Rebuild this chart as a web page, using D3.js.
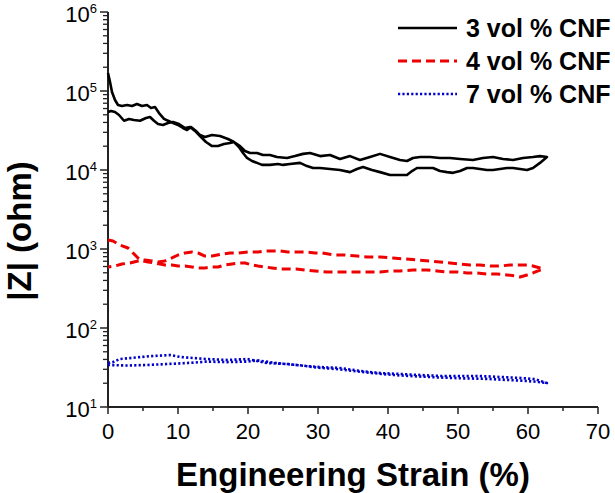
<!DOCTYPE html>
<html lang="en">
<head>
<meta charset="UTF-8">
<title>|Z| vs Engineering Strain</title>
<script src="https://d3js.org/d3.v7.min.js"></script>
<style>
    body { margin: 0; background: #fff; }
    svg { display: block; }
    text { font-family: Arial, "Liberation Sans", sans-serif; fill: #000; }
    .tick_label { font-size: 22px; }
    .axis_title { font-size: 33px; font-weight: bold; }
    .legend_text { font-size: 25px; font-weight: bold; }
</style>
</head>
<body>
<svg width="615" height="493"></svg>

<script>
    // [strain %, |Z| ohm]; each series is a loop (out, then back)
    const cnf3Out = [[0,1.69e5],[0.29,1.3e5],[0.57,9.7e4],[1.0,7.7e4],[1.43,6.65e4],[2.0,6.45e4],[2.71,6.65e4],
        [3.43,6.45e4],[4.14,6.85e4],[4.86,6.45e4],[5.57,6.65e4],[6.14,6.1e4],[6.71,6.27e4],[7.29,5.26e4],
        [8.0,4.43e4],[8.57,4.2e4],[9.29,3.94e4],[10.0,3.72e4],[10.71,3.4e4],[11.29,3.21e4],[11.86,3.5e4],
        [12.57,3.12e4],[13.14,2.77e4],[13.86,2.62e4],[14.86,2.77e4],[16.0,2.69e4],[17.14,2.47e4],[18.0,2.26e4],
        [18.71,1.95e4],[19.29,1.64e4],[19.86,1.42e4],[20.57,1.3e4],[21.29,1.23e4],[22.0,1.16e4],[23.14,1.16e4],
        [24.29,1.19e4],[25.0,1.16e4],[26.0,1.19e4],[27.43,1.23e4],[28.43,1.12e4],[29.29,1.06e4],[30.29,1.06e4],
        [31.71,1.03e4],[33.14,1.0e4],[34.57,9.4e3],[35.57,1.03e4],[36.43,1.09e4],[37.71,1.0e4],[38.86,9.4e3],
        [40.29,8.65e3],[41.71,8.65e3],[42.71,8.65e3],[43.43,9.7e3],[44.14,1.06e4],[45.29,1.06e4],[46.43,1.06e4],
        [47.43,9.7e3],[48.43,9.4e3],[49.29,9.2e3],[50.29,9.7e3],[51.29,1.06e4],[52.14,1.06e4],[53.14,1.03e4],
        [54.14,1.0e4],[55.0,1.0e4],[56.0,1.03e4],[57.0,1.06e4],[57.86,1.06e4],[58.86,1.03e4],[59.86,1.0e4],
        [60.71,1.06e4],[61.71,1.23e4],[62.71,1.46e4]];
    const cnf3Back = [[0,5.42e4],[0.43,5.59e4],[1.0,5.42e4],[1.57,4.97e4],[2.29,4.2e4],[3.0,4.43e4],[3.71,4.3e4],
        [4.57,4.2e4],[5.43,4.55e4],[6.0,4.69e4],[6.57,4.2e4],[7.14,3.82e4],[7.86,3.72e4],[8.57,3.94e4],
        [9.29,4.05e4],[10.14,3.82e4],[11.0,3.4e4],[11.71,3.5e4],[12.43,3.12e4],[13.14,2.69e4],[14.0,2.26e4],
        [14.86,2.01e4],[15.71,2.01e4],[16.57,2.13e4],[17.43,2.2e4],[18.0,2.26e4],[18.86,2.01e4],[19.57,1.74e4],
        [20.29,1.64e4],[21.29,1.64e4],[22.14,1.55e4],[23.14,1.55e4],[24.14,1.46e4],[25.57,1.42e4],[26.71,1.5e4],
        [27.86,1.6e4],[28.86,1.64e4],[30.29,1.5e4],[31.71,1.55e4],[33.14,1.38e4],[34.57,1.5e4],[36.0,1.34e4],
        [37.43,1.46e4],[38.86,1.6e4],[40.29,1.46e4],[41.71,1.34e4],[42.71,1.3e4],[43.57,1.42e4],[44.57,1.46e4],
        [46.0,1.46e4],[47.43,1.42e4],[48.86,1.42e4],[50.29,1.38e4],[52.14,1.34e4],[53.57,1.42e4],[55.0,1.46e4],
        [56.43,1.38e4],[57.86,1.34e4],[59.29,1.42e4],[60.71,1.46e4],[61.71,1.5e4],[62.71,1.46e4]];

    const cnf4Out = [[0,1300],[0.71,1262],[1.71,1124],[2.86,1030],[3.57,890],[4.29,770],[5.0,705],[5.71,685],
        [6.71,665],[7.43,646],[8.14,627],[9.14,627],[10.0,609],[11.0,609],[12.0,592],[12.86,575],[13.86,575],
        [14.86,592],[15.71,592],[16.71,627],[17.71,646],[18.57,665],[19.57,665],[20.57,627],[21.43,609],
        [22.43,592],[23.43,575],[24.57,559],[25.71,559],[26.86,559],[28.14,542],[29.57,527],[31.29,512],
        [33.14,512],[35.0,512],[37.0,512],[38.86,512],[40.29,527],[41.71,527],[43.57,542],[45.57,542],
        [47.0,527],[48.43,512],[49.86,512],[51.29,497],[52.71,497],[54.14,483],[55.57,483],[57.0,469],
        [58.14,456],[58.86,443],[59.86,469],[60.71,497],[61.71,542],[62.14,559]];
    const cnf4Back = [[0,592],[1.0,609],[2.0,646],[3.14,665],[4.29,705],[5.29,726],[6.29,705],[7.14,685],
        [8.14,705],[9.14,770],[10.0,840],[11.0,890],[12.0,916],[12.86,890],[13.86,815],[14.86,815],[16.29,864],
        [17.43,890],[18.57,890],[20.0,916],[21.43,916],[22.43,944],[23.43,944],[24.57,944],[25.71,916],
        [27.0,916],[28.14,916],[29.57,890],[30.57,890],[32.43,840],[33.86,840],[35.57,815],[37.0,792],
        [38.86,792],[40.71,770],[42.43,748],[44.14,726],[46.0,705],[47.43,685],[48.86,665],[50.29,646],
        [51.71,627],[53.14,627],[54.57,609],[56.0,609],[57.43,627],[58.86,627],[59.86,627],[60.71,609],
        [61.71,575],[62.14,559]];

    const cnf7Out = [[0,36],[0.7,37],[1.7,40.5],[3.6,42],[6,44],[8.9,45.5],[10.3,43],[12.1,41.7],[14.1,40.5],
        [17,39.4],[19.9,40.5],[21.3,38.2],[22.7,36],[25.6,35],[28.4,33],[30.3,32],[33.1,31.2],[36,28.6],
        [38.9,26.9],[41.7,26.2],[44.6,25.4],[47.4,24.7],[50.3,24.7],[53.1,24.7],[56,24],[59,23.3],[61,22.5],
        [62.7,20.1]];
    const cnf7Back = [[0,34],[2.7,33.5],[5.6,34],[8.4,35],[11.3,36],[14.1,37.5],[17,37],[19.9,37.5],[21.3,39],
        [24,36],[27,34],[30,31.5],[33,30],[36,28],[39,26.2],[42,25],[45,24.2],[48,23.5],[51,23],[54,22.7],
        [57,22],[60,21.3],[61.5,20.7],[62.7,20.1]];

    const seriesNames = ["3 vol % CNF", "4 vol % CNF", "7 vol % CNF"];
    const xTicks = [0, 10, 20, 30, 40, 50, 60, 70];
    const yDecades = [1, 2, 3, 4, 5, 6];

    const series = [
        {name: seriesNames[0], out: cnf3Out, back: cnf3Back, color: "#000000", dash: null, width: 2.6},
        {name: seriesNames[1], out: cnf4Out, back: cnf4Back, color: "#ee0000", dash: "9,5", width: 3},
        {name: seriesNames[2], out: cnf7Out, back: cnf7Back, color: "#0000cc", dash: "2.2,2.2", width: 2.6}
    ];

    let svg = d3.select("svg");

    const x = d3.scaleLinear().domain([0, 70]).range([108, 598]);
    const y = d3.scaleLog().domain([10, 1e6]).range([407, 12]);

    // x axis
    const gx = svg.append("g").attr("transform", "translate(0," + y(10) + ")");
    gx.append("line").attr("x1", x(0)).attr("x2", x(70))
        .attr("stroke", "#222").attr("stroke-width", 2);
    gx.selectAll(".major").data(xTicks).enter().append("line")
        .attr("x1", d => x(d)).attr("x2", d => x(d)).attr("y1", 0).attr("y2", 7)
        .attr("stroke", "#222").attr("stroke-width", 1.5);
    gx.selectAll(".minor").data(d3.range(5, 70, 10)).enter().append("line")
        .attr("x1", d => x(d)).attr("x2", d => x(d)).attr("y1", 0).attr("y2", 4)
        .attr("stroke", "#222").attr("stroke-width", 1.5);
    gx.selectAll("text").data(xTicks).enter().append("text")
        .attr("class", "tick_label")
        .attr("x", d => x(d)).attr("y", 32)
        .attr("text-anchor", "middle")
        .text(d => d);

    // y axis (log)
    const gy = svg.append("g").attr("transform", "translate(" + x(0) + ",0)");
    gy.append("line").attr("y1", y(10)).attr("y2", y(1e6))
        .attr("stroke", "#222").attr("stroke-width", 2);
    let minorVals = [];
    for (let k = 1; k < 6; k++) for (let m = 2; m <= 9; m++) minorVals.push(m * Math.pow(10, k));
    gy.selectAll(".minor").data(minorVals).enter().append("line")
        .attr("y1", d => y(d)).attr("y2", d => y(d)).attr("x1", 0).attr("x2", -5)
        .attr("stroke", "#222").attr("stroke-width", 1.3);
    gy.selectAll(".major").data(yDecades).enter().append("line")
        .attr("y1", d => y(Math.pow(10, d))).attr("y2", d => y(Math.pow(10, d))).attr("x1", 0).attr("x2", -8)
        .attr("stroke", "#222").attr("stroke-width", 1.5);
    let yl = gy.selectAll("text").data(yDecades).enter().append("text")
        .attr("class", "tick_label")
        .attr("x", -11).attr("y", d => y(Math.pow(10, d)) + 10)
        .attr("text-anchor", "end");
    yl.append("tspan").text("10");
    yl.append("tspan").attr("dy", -9).attr("font-size", "13px").text(d => d);

    // axis titles
    svg.append("text").attr("class", "axis_title")
        .attr("x", 353).attr("y", 486).attr("text-anchor", "middle")
        .text("Engineering Strain (%)");
    svg.append("text").attr("class", "axis_title")
        .attr("transform", "translate(31,231) rotate(-90)")
        .attr("text-anchor", "middle")
        .text("|Z| (ohm)");

    // curves
    const line = d3.line().x(d => x(d[0])).y(d => y(d[1]));
    svg.append("g").selectAll("path").data(series).enter().append("path")
        .attr("d", d => line(d.out.concat(d.back.slice().reverse())))
        .attr("fill", "none")
        .attr("stroke", d => d.color)
        .attr("stroke-width", d => d.width)
        .attr("stroke-dasharray", d => d.dash)
        .attr("stroke-linejoin", "round");

    // legend
    const lg = svg.append("g").selectAll("g").data(series).enter().append("g")
        .attr("transform", (d, i) => "translate(398," + (28 + i * 33) + ")");
    lg.append("line").attr("x1", 0).attr("x2", 59)
        .attr("stroke", d => d.color).attr("stroke-width", d => d.width)
        .attr("stroke-dasharray", d => d.dash);
    lg.append("text").attr("class", "legend_text")
        .attr("x", 68).attr("y", 9)
        .text(d => d.name);
</script>
</body>
</html>
